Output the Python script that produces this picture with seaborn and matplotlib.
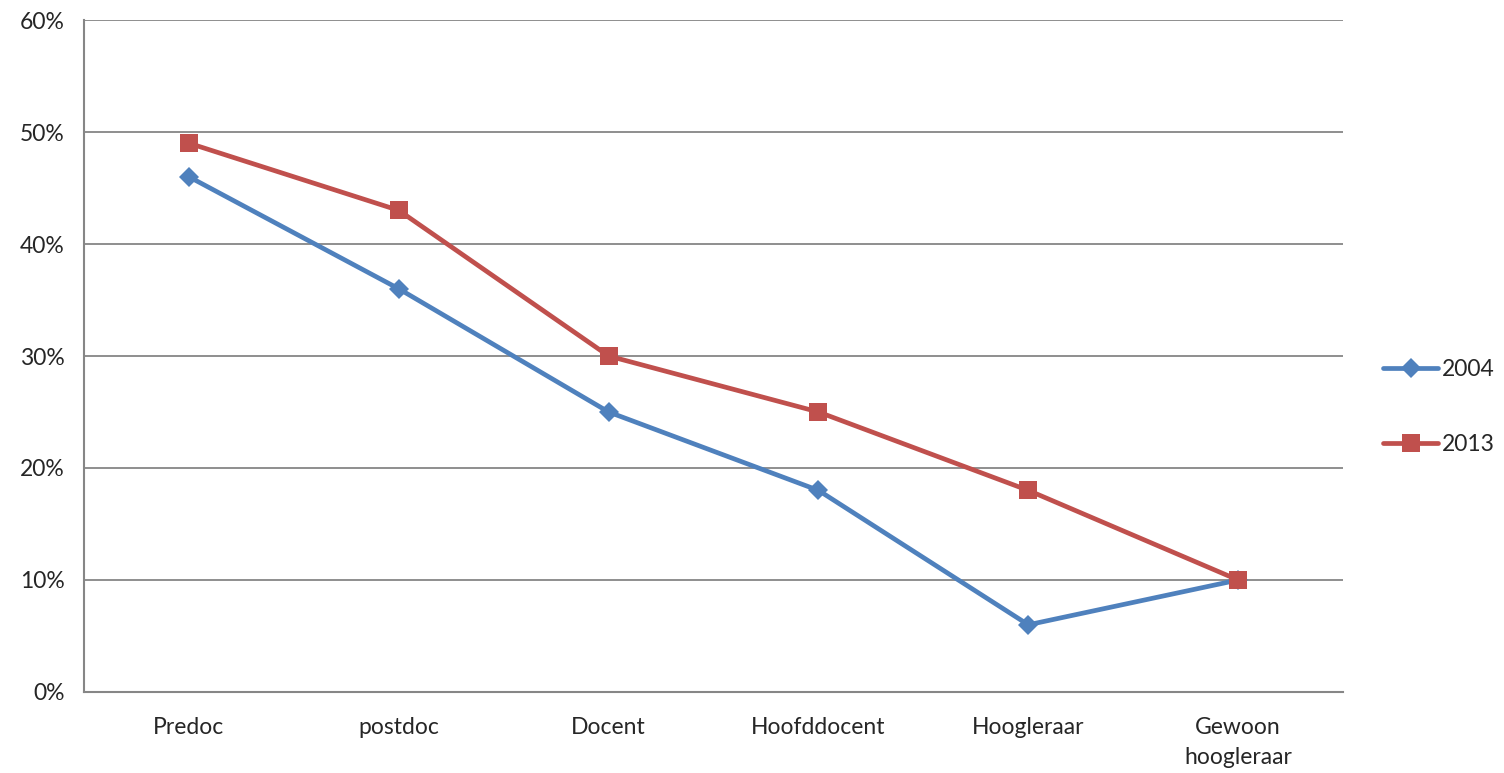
import matplotlib
matplotlib.use("Agg")
import matplotlib.pyplot as plt
import pandas as pd
import seaborn as sns
from matplotlib.ticker import PercentFormatter, FixedLocator

# Data
categories = ["Predoc", "postdoc", "Docent", "Hoofddocent", "Hoogleraar", "Gewoon\nhoogleraar"]
values_2004 = [46, 36, 25, 18, 6, 10]
values_2013 = [49, 43, 30, 25, 18, 10]

df = pd.DataFrame({"category": categories, "2004": values_2004, "2013": values_2013})

sns.set_style("white")
plt.rcParams["font.family"] = ["Lato", "DejaVu Sans"]

grid_col = "#868686"

fig = plt.figure(figsize=(15.04, 7.73), dpi=100)
ax = fig.add_axes([0.0559, 0.1048, 0.8371, 0.8693])

sns.lineplot(data=df, x="category", y="2004", marker="D", color="#4F81BD",
             linewidth=3.4, markersize=10.5, markeredgewidth=0, ax=ax, sort=False,
             label="2004", zorder=3)
sns.lineplot(data=df, x="category", y="2013", marker="s", color="#C0504D",
             linewidth=3.4, markersize=13.5, markeredgewidth=0, ax=ax, sort=False,
             label="2013", zorder=4)

ax.set_xlim(-0.5, len(categories) - 0.5)
ax.set_ylim(0, 60)
ax.yaxis.set_major_locator(FixedLocator([0, 10, 20, 30, 40, 50, 60]))
ax.yaxis.set_major_formatter(PercentFormatter(decimals=0))
ax.set_xticks(range(len(categories)))
ax.set_xticklabels(categories)
ax.set_xticks([i - 0.5 for i in range(len(categories) + 1)], minor=True)
ax.tick_params(axis="x", which="major", length=0, pad=18, labelsize=16.5)
ax.tick_params(axis="x", which="minor", length=7, color=grid_col, width=1.5)
ax.tick_params(axis="y", length=7, color=grid_col, width=1.5, labelsize=16.5, pad=7)
for lbl in ax.get_xticklabels():
    lbl.set_linespacing(1.55)

ax.grid(axis="y", color=grid_col, linewidth=1.3)
ax.set_axisbelow(True)
for side in ["top", "right"]:
    ax.spines[side].set_visible(False)
for side in ["left", "bottom"]:
    ax.spines[side].set_color(grid_col)
    ax.spines[side].set_linewidth(1.5)
ax.set_xlabel("")
ax.set_ylabel("")

ax.legend(loc="center left", bbox_to_anchor=(1.032, 0.424), frameon=False,
          fontsize=16.5, handlelength=2.4, handletextpad=0.15, labelspacing=2.35,
          borderaxespad=0, borderpad=0)

fig.savefig("out.png", dpi=100)
